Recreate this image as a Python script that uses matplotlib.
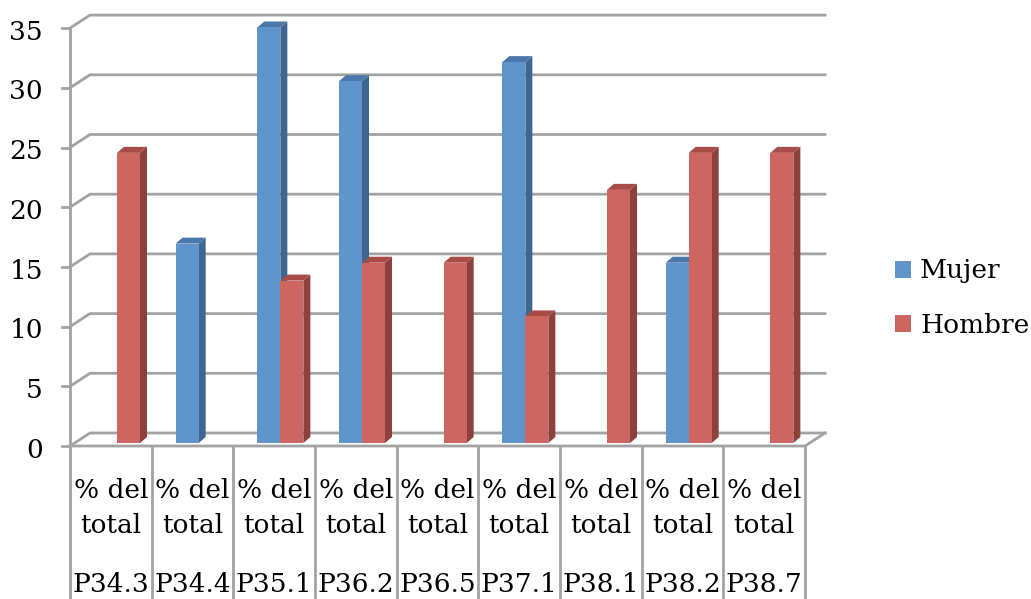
import matplotlib.pyplot as plt
from matplotlib.patches import Polygon, Patch

categorias = ['P34.3', 'P34.4', 'P35.1', 'P36.2', 'P36.5', 'P37.1', 'P38.1', 'P38.2', 'P38.7']
etiqueta = '% del\ntotal'
mujer = [0, 16.7, 34.8, 30.3, 0, 31.9, 0, 15.1, 0]
hombre = [24.3, 0, 13.6, 15.1, 15.1, 10.6, 21.2, 24.3, 24.3]
yticks = [0, 5, 10, 15, 20, 25, 30, 35]

# colores: frente, arriba, lado
AZUL = ('#5f95ca', '#4a78aa', '#3f6690')
ROJO = ('#cd6560', '#a84c48', '#8e403d')
GRIS = '#a3a3a3'

plt.rcParams['font.family'] = ['DejaVu Serif']
FS = 19

W, H = 1031, 599
fig = plt.figure(figsize=(W / 100, H / 100), dpi=100)
ax = fig.add_axes([0, 0, 1, 1])
ax.axis('off')

# una categoria = 81.67 px, una unidad = 11.94 px, origen del plano frontal en (70, 446)
px_x, px_y = 81.67, 11.94
x0, y0 = 70, 446
ax.set_xlim(-x0 / px_x, (W - x0) / px_x)
ax.set_ylim(-(H - y0) / px_y, y0 / px_y)


def fx(px):
    return (px - x0) / px_x


def fy(py):
    return (y0 - py) / px_y


n = len(categorias)
dx, dy = 20 / px_x, 13 / px_y          # profundidad de la pared
lw = 2

# pared de fondo, lineas de division y eje
for t in yticks:
    ax.plot([0, dx, n + dx], [t, t + dy, t + dy], color=GRIS, lw=lw, zorder=1)
    ax.plot([fx(62), 0], [t, t], color=GRIS, lw=lw, zorder=1)
    ax.text(fx(43), t - 0.35, str(t), ha='right', va='center', fontsize=FS)
ax.plot([0, 0], [0, yticks[-1]], color=GRIS, lw=lw, zorder=1)
ax.plot([0, n, n + dx], [0, 0, dy], color=GRIS, lw=lw, zorder=1)

# tabla de categorias
for i in range(n + 1):
    ax.plot([i, i], [0, fy(H + 2)], color=GRIS, lw=lw, zorder=1)
for i, c in enumerate(categorias):
    ax.text(i + 0.5, fy(498), '% del', ha='center', va='baseline', fontsize=FS)
    ax.text(i + 0.5, fy(533), 'total', ha='center', va='baseline', fontsize=FS)
    ax.text(i + 0.5, fy(592), c, ha='center', va='baseline', fontsize=FS)

# barras 3D
w = 23 / px_x
off = 24 / px_x
base = 3 / px_y
bx, by = 7 / px_x, 6 / px_y


def barra(xl, v, colores, z):
    frente, arriba, lado = colores
    xr = xl + w
    top = base + v
    ax.add_patch(Polygon([(xr, base), (xr + bx, base + by), (xr + bx, top + by), (xr, top)],
                         closed=True, facecolor=lado, edgecolor='none', zorder=z))
    ax.add_patch(Polygon([(xl, top), (xr, top), (xr + bx, top + by), (xl + bx, top + by)],
                         closed=True, facecolor=arriba, edgecolor='none', zorder=z))
    ax.add_patch(Polygon([(xl, base), (xr, base), (xr, top), (xl, top)],
                         closed=True, facecolor=frente, edgecolor='none', zorder=z))


for i in range(n):
    if mujer[i] > 0:
        barra(i + off, mujer[i], AZUL, 2)
    if hombre[i] > 0:
        barra(i + off + w, hombre[i], ROJO, 3)

handles = [Patch(facecolor=AZUL[0], label='Mujer'), Patch(facecolor=ROJO[0], label='Hombre')]
ax.legend(handles=handles, loc='center left', bbox_to_anchor=(895 / W, 1 - 298 / H),
          bbox_transform=fig.transFigure, frameon=False, fontsize=FS,
          handlelength=0.6, handleheight=0.6, handletextpad=0.35,
          labelspacing=1.1, borderpad=0, borderaxespad=0)

fig.savefig('out.png', dpi=100)
